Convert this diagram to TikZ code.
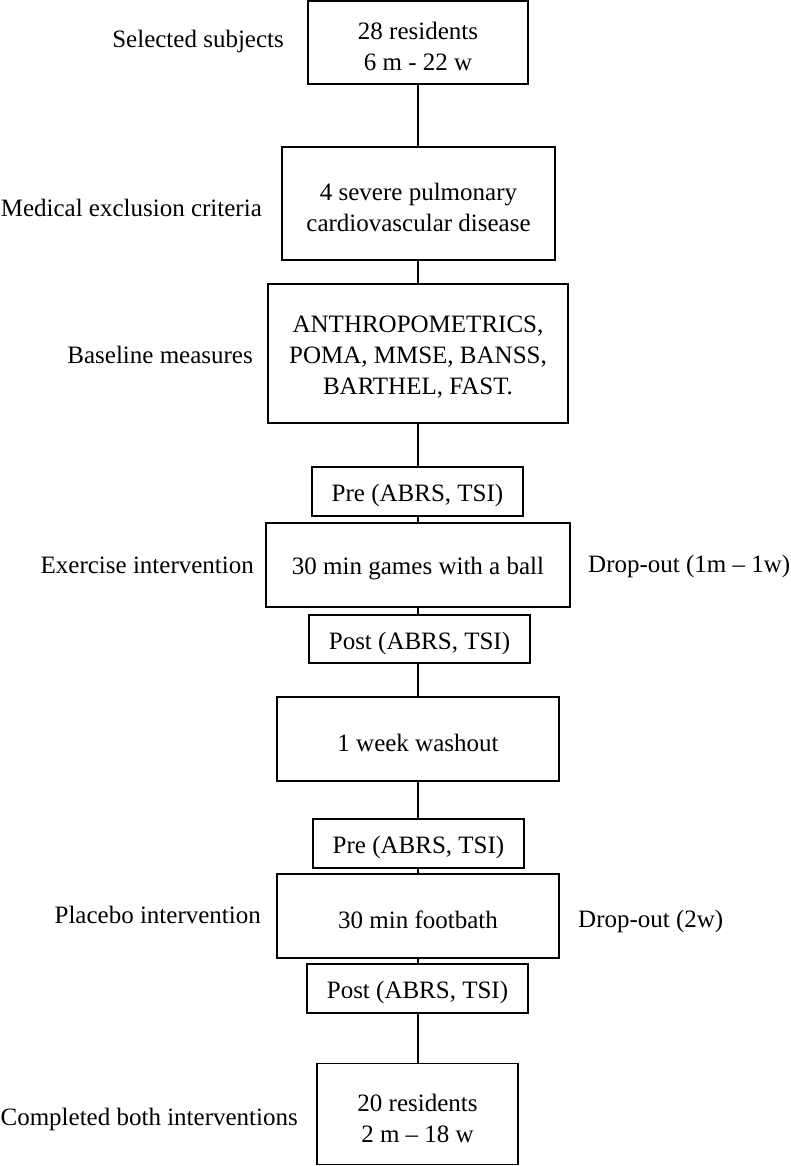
\documentclass[tikz,border=0pt]{standalone}
\usepackage{fontspec}
\setmainfont{Liberation Serif}
\begin{document}
\begin{tikzpicture}[x=1pt,y=-1pt,
  every node/.style={font=\fontsize{25}{31}\selectfont},
  box/.style={draw, line width=1.8pt, inner sep=0pt},
  boxtext/.style={inner sep=0pt, align=center, yshift=-4pt},
  conn/.style={line width=1.8pt},
  lbl/.style={inner sep=0pt}]
\useasboundingbox (0,0) rectangle (791,1166);
% boxes
\node[box, minimum width=220pt, minimum height=83pt]  (b1) at (418,42.5)   {};
\node[box, minimum width=273pt, minimum height=113pt] (b2) at (418.5,203.5) {};
\node[box, minimum width=300pt, minimum height=139pt] (b3) at (418,353.5)  {};
\node[box, minimum width=211pt, minimum height=49pt]  (pre1) at (417.5,491.5) {};
\node[box, minimum width=304pt, minimum height=84pt]  (ex) at (418,565)     {};
\node[box, minimum width=221pt, minimum height=48pt]  (post1) at (419.5,639) {};
\node[box, minimum width=282pt, minimum height=84pt]  (wash) at (418,739)   {};
\node[box, minimum width=211pt, minimum height=49pt]  (pre2) at (418.5,843.5) {};
\node[box, minimum width=282pt, minimum height=84pt]  (foot) at (418,916)   {};
\node[box, minimum width=221pt, minimum height=49pt]  (post2) at (417.5,988.5) {};
\node[box, minimum width=201pt, minimum height=101pt] (fin) at (417.5,1114) {};
% box texts
\node[boxtext] (b1t) at (b1.center) {28 residents\\6 m - 22 w};
\node[boxtext] (b2t) at (b2.center) {4 severe pulmonary\\cardiovascular disease};
\node[boxtext] (b3t) at (b3.center) {ANTHROPOMETRICS,\\POMA, MMSE, BANSS,\\BARTHEL, FAST.};
\node[boxtext] (pre1t) at (pre1.center) {Pre (ABRS, TSI)};
\node[boxtext] (ext) at (ex.center) {30 min games with a ball};
\node[boxtext] (post1t) at (post1.center) {Post (ABRS, TSI)};
\node[boxtext] (washt) at (wash.center) {1 week washout};
\node[boxtext] (pre2t) at (pre2.center) {Pre (ABRS, TSI)};
\node[boxtext] (foott) at (foot.center) {30 min footbath};
\node[boxtext] (post2t) at (post2.center) {Post (ABRS, TSI)};
\node[boxtext] (fint) at (fin.center) {20 residents\\2 m -- 18 w};
% connectors
\draw[conn] (418,0 |- b1.south) -- (418,0 |- b2.north);
\draw[conn] (418,0 |- b2.south) -- (418,0 |- b3.north);
\draw[conn] (418,0 |- b3.south) -- (418,0 |- pre1.north);
\draw[conn] (418,0 |- pre1.south) -- (418,0 |- ex.north);
\draw[conn] (418,0 |- ex.south) -- (418,0 |- post1.north);
\draw[conn] (418,0 |- post1.south) -- (418,0 |- wash.north);
\draw[conn] (418,0 |- wash.south) -- (418,0 |- pre2.north);
\draw[conn] (418,0 |- pre2.south) -- (418,0 |- foot.north);
\draw[conn] (418,0 |- foot.south) -- (418,0 |- post2.north);
\draw[conn] (418,0 |- post2.south) -- (418,0 |- fin.north);
% side labels
\node[lbl, anchor=base east] (l1) at (284,48)  {Selected subjects};
\node[lbl, anchor=base east] (l2) at (262,217) {Medical exclusion criteria};
\node[lbl, anchor=base east] (l3) at (253,363) {Baseline measures};
\node[lbl, anchor=base east] (l4) at (254,573) {Exercise intervention};
\node[lbl, anchor=base east] (l5) at (261,923) {Placebo intervention};
\node[lbl, anchor=base east] (l6) at (298,1125) {Completed both interventions};
\node[lbl, anchor=base west] (r1) at (588,572) {Drop-out (1m -- 1w)};
\node[lbl, anchor=base west] (r2) at (578,927) {Drop-out (2w)};
\end{tikzpicture}
\end{document}
